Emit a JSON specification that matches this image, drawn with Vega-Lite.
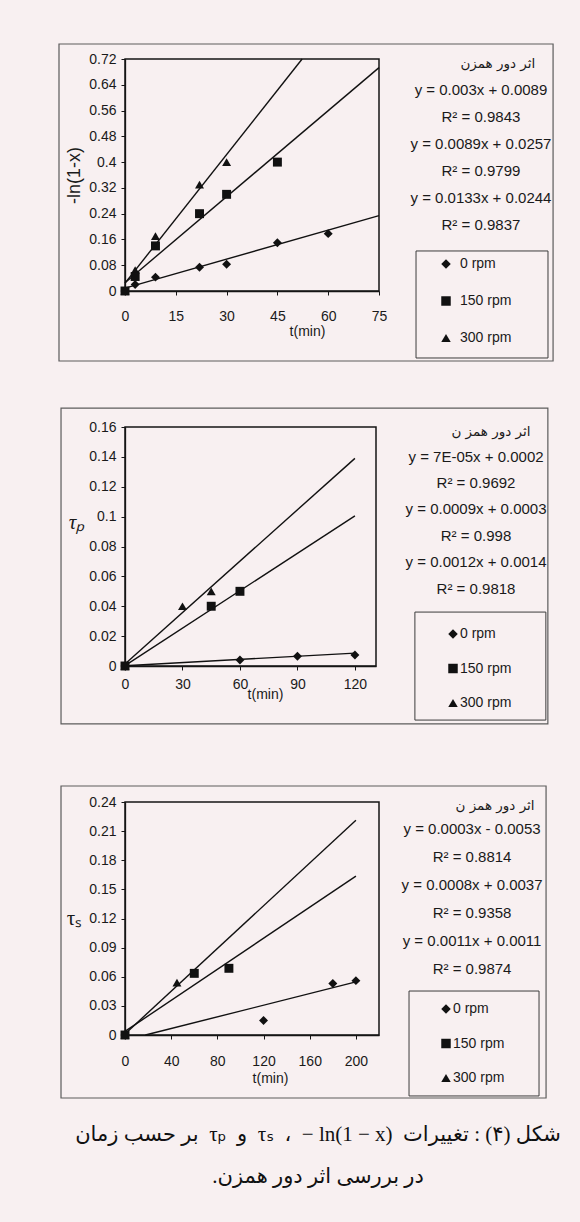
{
  "$schema": "https://vega.github.io/schema/vega-lite/v6.json",
  "background": "#f8f0f1",
  "padding": {"left": 57, "top": 42, "right": 27, "bottom": 40},
  "bounds": "flush",
  "spacing": 136,
  "title": {
    "text": ["\u202bشکل (۴) : تغییرات\u2002\u202a− ln(1 − x)\u202c\u200f\u2002،\u2002τₛ\u2002و\u2002τₚ\u2002بر حسب زمان\u202c", "\u202bدر بررسی اثر دور همزن.\u202c"],
    "orient": "bottom", "anchor": "middle", "frame": "bounds", "baseline": "top", "align": "center",
    "offset": 25, "dx": 12, "lineHeight": 42,
    "font": "Liberation Serif, DejaVu Sans", "fontSize": 21, "fontWeight": "normal", "color": "#111"
  },
  "config": {
    "font": "Liberation Sans",
    "view": {"stroke": "#151515", "strokeWidth": 1.5},
    "axis": {"grid": false, "domainColor": "#151515", "domainWidth": 1.3, "tickColor": "#151515", "tickSize": 4, "tickWidth": 1,
      "labelFont": "Liberation Sans", "labelFontSize": 14, "labelColor": "#1a1a1a", "labelOverlap": false, "labelFlush": false,
      "titleFont": "Liberation Sans", "titleFontSize": 14, "titleFontWeight": "normal", "titleColor": "#1a1a1a"},
    "axisY": {"labelPadding": 5, "labelOverlap": false, "tickCount": 20},
    "axisX": {"tickCount": 20},
    "text": {"font": "Liberation Sans", "fontSize": 15, "color": "#1a1a1a"},
    "legend": {"labelFont": "Liberation Sans", "labelFontSize": 14, "labelColor": "#1a1a1a", "symbolFillColor": "#111", "symbolStrokeColor": "#111", "symbolStrokeWidth": 0.5, "symbolSize": 90, "padding": 0}
  },
  "datasets": {
    "p1head": [{"label": "اثر دور همزن"}],
    "p2head": [{"label": "اثر دور همز ن"}],
    "p3head": [{"label": "اثر دور همز ن"}],
    "p1eq": [{"lines": ["y = 0.003x + 0.0089", "R² = 0.9843", "y = 0.0089x + 0.0257", "R² = 0.9799", "y = 0.0133x + 0.0244", "R² = 0.9837"]}],
    "p2eq": [{"lines": ["y = 7E-05x + 0.0002", "R² = 0.9692", "y = 0.0009x + 0.0003", "R² = 0.998", "y = 0.0012x + 0.0014", "R² = 0.9818"]}],
    "p3eq": [{"lines": ["y = 0.0003x - 0.0053", "R² = 0.8814", "y = 0.0008x + 0.0037", "R² = 0.9358", "y = 0.0011x + 0.0011", "R² = 0.9874"]}],
    "p1pts": [
      {"rpm": "0 rpm", "t": 0, "y": 0}, {"rpm": "0 rpm", "t": 3, "y": 0.02}, {"rpm": "0 rpm", "t": 9, "y": 0.043},
      {"rpm": "0 rpm", "t": 22, "y": 0.074}, {"rpm": "0 rpm", "t": 30, "y": 0.083}, {"rpm": "0 rpm", "t": 45, "y": 0.15},
      {"rpm": "0 rpm", "t": 60, "y": 0.178},
      {"rpm": "300 rpm", "t": 0, "y": 0}, {"rpm": "300 rpm", "t": 3, "y": 0.065}, {"rpm": "300 rpm", "t": 9, "y": 0.17},
      {"rpm": "300 rpm", "t": 22, "y": 0.33}, {"rpm": "300 rpm", "t": 30, "y": 0.4},
      {"rpm": "150 rpm", "t": 0, "y": 0}, {"rpm": "150 rpm", "t": 3, "y": 0.045}, {"rpm": "150 rpm", "t": 9, "y": 0.14},
      {"rpm": "150 rpm", "t": 22, "y": 0.24}, {"rpm": "150 rpm", "t": 30, "y": 0.3}, {"rpm": "150 rpm", "t": 45, "y": 0.4}
    ],
    "p1lines": [
      {"rpm": "0 rpm", "t": 0, "y": 0.0089}, {"rpm": "0 rpm", "t": 75, "y": 0.2339},
      {"rpm": "150 rpm", "t": 0, "y": 0.0257}, {"rpm": "150 rpm", "t": 75, "y": 0.6932},
      {"rpm": "300 rpm", "t": 0, "y": 0.0244}, {"rpm": "300 rpm", "t": 52.3, "y": 0.72}
    ],
    "p2pts": [
      {"rpm": "0 rpm", "t": 0, "y": 0}, {"rpm": "0 rpm", "t": 60, "y": 0.004}, {"rpm": "0 rpm", "t": 90, "y": 0.0065}, {"rpm": "0 rpm", "t": 120, "y": 0.0074},
      {"rpm": "300 rpm", "t": 0, "y": 0}, {"rpm": "300 rpm", "t": 30, "y": 0.04}, {"rpm": "300 rpm", "t": 45, "y": 0.05},
      {"rpm": "150 rpm", "t": 0, "y": 0}, {"rpm": "150 rpm", "t": 45, "y": 0.04}, {"rpm": "150 rpm", "t": 60, "y": 0.05}
    ],
    "p2lines": [
      {"rpm": "0 rpm", "t": 0, "y": 0.0002}, {"rpm": "0 rpm", "t": 120, "y": 0.0086},
      {"rpm": "150 rpm", "t": 0, "y": 0.0003}, {"rpm": "150 rpm", "t": 120, "y": 0.1005},
      {"rpm": "300 rpm", "t": 0, "y": 0.0014}, {"rpm": "300 rpm", "t": 120, "y": 0.139}
    ],
    "p3pts": [
      {"rpm": "0 rpm", "t": 0, "y": 0}, {"rpm": "0 rpm", "t": 120, "y": 0.015}, {"rpm": "0 rpm", "t": 180, "y": 0.053}, {"rpm": "0 rpm", "t": 200, "y": 0.056},
      {"rpm": "300 rpm", "t": 0, "y": 0}, {"rpm": "300 rpm", "t": 45, "y": 0.054},
      {"rpm": "150 rpm", "t": 0, "y": 0}, {"rpm": "150 rpm", "t": 60, "y": 0.0635}, {"rpm": "150 rpm", "t": 90, "y": 0.0687}
    ],
    "p3lines": [
      {"rpm": "0 rpm", "t": 17.7, "y": 0}, {"rpm": "0 rpm", "t": 200, "y": 0.0547},
      {"rpm": "150 rpm", "t": 0, "y": 0.0037}, {"rpm": "150 rpm", "t": 200, "y": 0.1637},
      {"rpm": "300 rpm", "t": 0, "y": 0.0011}, {"rpm": "300 rpm", "t": 200, "y": 0.2211}
    ]
  },
  "vconcat": [
    {
      "width": 254, "height": 232,
      "layer": [
        {"data": {"values": [{"box": "chart"}]},
          "mark": {"type": "rect", "filled": false, "color": "#5c5c5c", "strokeWidth": 1.2},
          "encoding": {"x": {"datum": -19.49, "type": "quantitative", "scale": {"domain": [0, 75], "nice": false}}, "x2": {"datum": 126.4},
            "y": {"datum": 0.7666, "type": "quantitative", "scale": {"domain": [0, 0.72], "nice": false}}, "y2": {"datum": -0.2172}}},
        {"data": {"values": [{"box": "legend"}]},
          "mark": {"type": "rect", "filled": false, "color": "#3c3c3c", "strokeWidth": 1},
          "encoding": {"x": {"datum": 85.93, "type": "quantitative", "scale": {"domain": [0, 75], "nice": false}}, "x2": {"datum": 124.9},
            "y": {"datum": 0.1242, "type": "quantitative", "scale": {"domain": [0, 0.72], "nice": false}}, "y2": {"datum": -0.2079}}},
        {"data": {"name": "p1head"},
          "mark": {"type": "text", "align": "center", "baseline": "middle", "fontSize": 13.5, "font": "DejaVu Sans"},
          "encoding": {"x": {"datum": 110.1, "type": "quantitative", "scale": {"domain": [0, 75], "nice": false}},
            "y": {"datum": 0.7045, "type": "quantitative", "scale": {"domain": [0, 0.72], "nice": false}},
            "text": {"field": "label"}}},
        {"data": {"name": "p1eq"},
          "mark": {"type": "text", "align": "center", "baseline": "top", "lineHeight": 27},
          "encoding": {"x": {"datum": 105.1, "type": "quantitative", "scale": {"domain": [0, 75], "nice": false}},
            "y": {"datum": 0.644, "type": "quantitative", "scale": {"domain": [0, 0.72], "nice": false}},
            "text": {"field": "lines"}}},
        {"data": {"name": "p1lines"},
          "mark": {"type": "line", "color": "#111", "strokeWidth": 1.4},
          "encoding": {
            "x": {"field": "t", "type": "quantitative", "scale": {"domain": [0, 75], "nice": false},
              "axis": {"title": "t(min)", "values": [0, 15, 30, 45, 60, 75], "tickCount": 20, "labelOverlap": false, "labelPadding": 14, "titleX": 182, "titleY": 40, "titleAlign": "center", "titleBaseline": "middle"}},
            "y": {"field": "y", "type": "quantitative", "scale": {"domain": [0, 0.72], "nice": false},
              "axis": {"title": "-ln(1-x)", "values": [0, 0.08, 0.16, 0.24, 0.32, 0.4, 0.48, 0.56, 0.64, 0.72], "tickCount": 20, "labelOverlap": false, "format": ".2~f", "titlePadding": 5, "titleFontSize": 18}},
            "detail": {"field": "rpm", "type": "nominal"}}},
        {"data": {"name": "p1pts"},
          "mark": {"type": "point", "filled": true, "color": "#111", "size": 80, "opacity": 1},
          "encoding": {
            "x": {"field": "t", "type": "quantitative"},
            "y": {"field": "y", "type": "quantitative"},
            "shape": {"field": "rpm", "type": "nominal",
              "scale": {"domain": ["0 rpm", "150 rpm", "300 rpm"], "range": ["diamond", "square", "triangle-up"]},
              "legend": {"title": null, "orient": "none", "legendX": 314, "legendY": 198, "labelOffset": 7, "rowPadding": 23}}}}
      ]
    },
    {
      "width": 251, "height": 239,
      "layer": [
        {"data": {"values": [{"box": "chart"}]},
          "mark": {"type": "rect", "filled": false, "color": "#5c5c5c", "strokeWidth": 1.2},
          "encoding": {"x": {"datum": -33.39, "type": "quantitative", "scale": {"domain": [0, 131], "nice": false}}, "x2": {"datum": 220.7},
            "y": {"datum": 0.1727, "type": "quantitative", "scale": {"domain": [0, 0.16], "nice": false}}, "y2": {"datum": -0.0388}}},
        {"data": {"values": [{"box": "legend"}]},
          "mark": {"type": "rect", "filled": false, "color": "#3c3c3c", "strokeWidth": 1},
          "encoding": {"x": {"datum": 151.3, "type": "quantitative", "scale": {"domain": [0, 131], "nice": false}}, "x2": {"datum": 219.65},
            "y": {"datum": 0.0361, "type": "quantitative", "scale": {"domain": [0, 0.16], "nice": false}}, "y2": {"datum": -0.0362}}},
        {"data": {"name": "p2head"},
          "mark": {"type": "text", "align": "center", "baseline": "middle", "fontSize": 13.5, "font": "DejaVu Sans"},
          "encoding": {"x": {"datum": 191.0, "type": "quantitative", "scale": {"domain": [0, 131], "nice": false}},
            "y": {"datum": 0.15665, "type": "quantitative", "scale": {"domain": [0, 0.16], "nice": false}},
            "text": {"field": "label"}}},
        {"data": {"name": "p2eq"},
          "mark": {"type": "text", "align": "center", "baseline": "top", "lineHeight": 26.4},
          "encoding": {"x": {"datum": 183.2, "type": "quantitative", "scale": {"domain": [0, 131], "nice": false}},
            "y": {"datum": 0.1449, "type": "quantitative", "scale": {"domain": [0, 0.16], "nice": false}},
            "text": {"field": "lines"}}},
        {"data": {"name": "p2lines"},
          "mark": {"type": "line", "color": "#111", "strokeWidth": 1.4},
          "encoding": {
            "x": {"field": "t", "type": "quantitative", "scale": {"domain": [0, 131], "nice": false},
              "axis": {"title": "t(min)", "values": [0, 30, 60, 90, 120], "tickCount": 20, "labelOverlap": false, "labelPadding": 7, "titleX": 140, "titleY": 28, "titleAlign": "center", "titleBaseline": "middle"}},
            "y": {"field": "y", "type": "quantitative", "scale": {"domain": [0, 0.16], "nice": false},
              "axis": {"title": "τₚ", "values": [0, 0.02, 0.04, 0.06, 0.08, 0.1, 0.12, 0.14, 0.16], "tickCount": 20, "labelOverlap": false, "format": ".2~f",
                "titleAngle": 0, "titleX": -49, "titleY": 95, "titleAlign": "center", "titleBaseline": "middle",
                "titleFont": "Liberation Serif", "titleFontSize": 21, "titleFontStyle": "italic"}},
            "detail": {"field": "rpm", "type": "nominal"}}},
        {"data": {"name": "p2pts"},
          "mark": {"type": "point", "filled": true, "color": "#111", "size": 80, "opacity": 1},
          "encoding": {
            "x": {"field": "t", "type": "quantitative"},
            "y": {"field": "y", "type": "quantitative"},
            "shape": {"field": "rpm", "type": "nominal",
              "scale": {"domain": ["0 rpm", "150 rpm", "300 rpm"], "range": ["diamond", "square", "triangle-up"]},
              "legend": {"title": null, "orient": "none", "legendX": 321, "legendY": 200, "labelOffset": 0, "rowPadding": 20.5}}}}
      ]
    },
    {
      "width": 254, "height": 233,
      "layer": [
        {"data": {"values": [{"box": "chart"}]},
          "mark": {"type": "rect", "filled": false, "color": "#5c5c5c", "strokeWidth": 1.2},
          "encoding": {"x": {"datum": -55.43, "type": "quantitative", "scale": {"domain": [0, 220], "nice": false}}, "x2": {"datum": 364.7},
            "y": {"datum": 0.2565, "type": "quantitative", "scale": {"domain": [0, 0.24], "nice": false}}, "y2": {"datum": -0.0649}}},
        {"data": {"values": [{"box": "legend"}]},
          "mark": {"type": "rect", "filled": false, "color": "#3c3c3c", "strokeWidth": 1},
          "encoding": {"x": {"datum": 246.0, "type": "quantitative", "scale": {"domain": [0, 220], "nice": false}}, "x2": {"datum": 358.6},
            "y": {"datum": 0.0453, "type": "quantitative", "scale": {"domain": [0, 0.24], "nice": false}}, "y2": {"datum": -0.0628}}},
        {"data": {"name": "p3head"},
          "mark": {"type": "text", "align": "center", "baseline": "middle", "fontSize": 13.5, "font": "DejaVu Sans"},
          "encoding": {"x": {"datum": 320.5, "type": "quantitative", "scale": {"domain": [0, 220], "nice": false}},
            "y": {"datum": 0.2359, "type": "quantitative", "scale": {"domain": [0, 0.24], "nice": false}},
            "text": {"field": "label"}}},
        {"data": {"name": "p3eq"},
          "mark": {"type": "text", "align": "center", "baseline": "top", "lineHeight": 28},
          "encoding": {"x": {"datum": 300.6, "type": "quantitative", "scale": {"domain": [0, 220], "nice": false}},
            "y": {"datum": 0.2199, "type": "quantitative", "scale": {"domain": [0, 0.24], "nice": false}},
            "text": {"field": "lines"}}},
        {"data": {"name": "p3lines"},
          "mark": {"type": "line", "color": "#111", "strokeWidth": 1.4},
          "encoding": {
            "x": {"field": "t", "type": "quantitative", "scale": {"domain": [0, 220], "nice": false},
              "axis": {"title": "t(min)", "values": [0, 40, 80, 120, 160, 200], "tickCount": 20, "labelOverlap": false, "labelPadding": 15, "titleX": 145, "titleY": 43, "titleAlign": "center", "titleBaseline": "middle"}},
            "y": {"field": "y", "type": "quantitative", "scale": {"domain": [0, 0.24], "nice": false},
              "axis": {"title": "τₛ", "values": [0, 0.03, 0.06, 0.09, 0.12, 0.15, 0.18, 0.21, 0.24], "tickCount": 20, "labelOverlap": false, "format": ".2~f",
                "titleAngle": 0, "titleX": -51, "titleY": 116, "titleAlign": "center", "titleBaseline": "middle",
                "titleFont": "Liberation Serif", "titleFontSize": 21}},
            "detail": {"field": "rpm", "type": "nominal"}}},
        {"data": {"name": "p3pts"},
          "mark": {"type": "point", "filled": true, "color": "#111", "size": 80, "opacity": 1},
          "encoding": {
            "x": {"field": "t", "type": "quantitative"},
            "y": {"field": "y", "type": "quantitative"},
            "shape": {"field": "rpm", "type": "nominal",
              "scale": {"domain": ["0 rpm", "150 rpm", "300 rpm"], "range": ["diamond", "square", "triangle-up"]},
              "legend": {"title": null, "orient": "none", "legendX": 314, "legendY": 200, "labelOffset": 0, "rowPadding": 20.5}}}}
      ]
    }
  ],
  "resolve": {"scale": {"shape": "independent", "x": "independent", "y": "independent"}, "legend": {"shape": "independent"}}
}
